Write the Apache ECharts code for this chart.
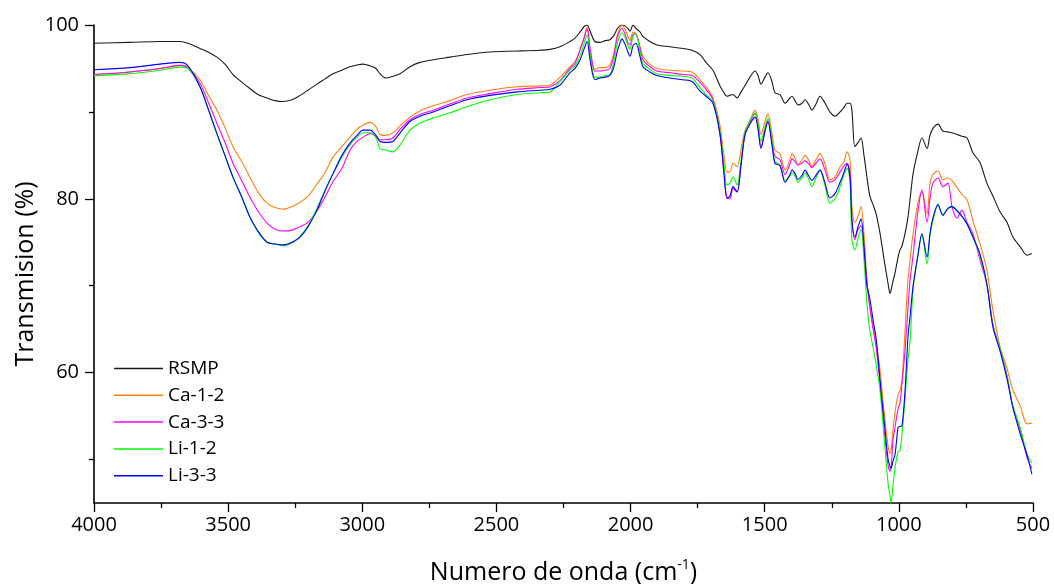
<!DOCTYPE html>
<html>
<head>
        <meta charset="utf-8">
        <title>FTIR</title>
        <script src="https://cdn.jsdelivr.net/npm/echarts@6/dist/echarts.min.js"></script>
        <style>
                body { margin: 0; background: #fff; }
                #main { width: 1054px; height: 584px; }
        </style>
</head>
<body>
        <div id="main"></div>
        <script type="text/javascript">

// ---------------- data (wavenumber cm-1 / transmision %) ----------------
var wavenumber = [4000,3866,3754,3679,3650,3605,3575,3542,3512,3482,3448,3419,3389,3355,3325,3296,3262,3232,3202,3169,
        3139,3109,3076,3046,3020,2997,2971,2949,2934,2912,2886,2859,2822,2785,2736,2673,2610,2524,2423,2338,
        2300,2263,2226,2207,2188,2174,2162,2151,2133,2114,2095,2077,2062,2051,2040,2032,2021,2010,2002,1991,
        1980,1965,1954,1928,1902,1853,1805,1771,1741,1719,1693,1667,1652,1641,1630,1618,1603,1588,1574,1555,
        1536,1525,1514,1499,1488,1473,1462,1443,1424,1406,1398,1387,1376,1361,1350,1335,1324,1309,1294,1275,
        1257,1238,1219,1205,1193,1182,1175,1164,1152,1141,1130,1119,1108,1096,1085,1070,1055,1040,1033,1029,
        1022,1014,1003,996,988,977,966,958,947,929,914,895,884,873,854,836,817,802,783,765,
        746,724,698,672,649,623,597,575,548,522,504]

var rsmp = [97.9,98.0,98.1,98.1,97.9,97.3,96.9,96.3,95.5,94.3,93.4,92.7,92.0,91.6,91.3,91.2,91.4,91.9,92.5,93.2,
        93.8,94.4,94.8,95.2,95.4,95.5,95.3,95.0,94.4,93.9,94.1,94.4,95.2,95.7,96.0,96.3,96.6,96.9,97.0,97.1,
        97.2,97.5,98.1,98.5,99.2,99.8,100,99.3,98.1,98.0,98.2,98.3,98.8,99.5,99.9,100,99.9,99.6,99.3,100,
        99.6,99.2,98.7,98.1,97.7,97.5,97.3,97.1,96.6,95.7,94.8,93.0,92.2,91.8,91.9,92.0,91.6,92.3,93.0,94.0,
        94.7,94.2,93.2,94.0,94.5,93.5,92.2,92.0,91.0,91.6,91.8,91.3,90.8,91.0,91.4,90.8,90.2,90.9,91.8,91.0,
        90.0,89.5,90.0,90.5,91.0,91.0,90.2,86.0,86.5,87.0,85.0,82.5,80.3,79.3,78.3,76.0,73.0,70.2,69.1,69.5,
        70.5,71.5,73.3,74.1,74.6,76.0,77.9,80.0,82.9,85.5,87.0,85.8,87.3,88.1,88.6,87.8,87.7,87.6,87.4,87.2,
        87.0,85.3,84.2,81.8,80.3,78.5,77.3,75.6,74.5,73.5,73.7]

var ca12 = [94.3,94.6,95.0,95.35,95.1,93.7,92.0,90.2,88.2,86.0,84.2,82.5,80.8,79.5,79.0,78.8,79.1,79.6,80.3,81.7,
        83.0,84.8,86.0,87.1,88.0,88.5,88.8,88.3,87.4,87.3,87.6,88.4,89.4,90.1,90.7,91.3,92.0,92.5,92.9,93.0,
        93.1,94.0,95.2,95.8,97.2,98.5,99.8,97.5,94.9,95.1,95.1,95.4,96.8,98.7,99.6,100,99.5,98.7,98.2,99.2,
        99.0,97.6,96.4,95.5,95.0,94.8,94.7,94.6,93.7,92.9,91.6,88.5,85.0,83.1,83.1,84.1,83.7,85.7,87.8,89.0,
        90.2,89.2,87.4,88.9,89.8,87.5,85.6,85.2,83.3,84.5,85.2,84.7,83.9,84.5,85.0,84.4,83.7,84.5,85.2,84.0,
        82.2,82.5,83.7,84.2,85.4,84.5,79.1,77.3,78.0,79.1,76.0,70.5,67.5,65.3,63.5,60.3,55.5,51.5,50.7,51.0,
        53.4,55.5,57.5,57.9,59.1,64.9,70.7,73.0,76.0,79.5,80.8,78.3,81.8,82.8,83.2,82.2,82.4,82.1,81.3,80.5,
        79.9,77.5,74.9,71.8,67.1,63.0,60.5,58.0,56.2,54.1,54.2]

var ca33 = [94.3,94.6,95.0,95.35,95.1,93.3,91.2,88.7,86.5,84.1,82.0,80.2,78.6,77.2,76.5,76.3,76.4,76.8,77.3,78.6,
        80.2,82.0,83.5,85.6,86.6,87.1,87.5,87.2,86.8,86.8,87.0,88.0,89.1,89.7,90.2,90.9,91.6,92.1,92.6,92.8,
        92.9,93.6,95.0,95.6,97.2,98.4,99.6,97.2,94.7,94.7,94.8,95.0,96.5,98.4,99.3,99.6,99.0,98.0,97.7,98.9,
        99.0,97.3,96.0,95.2,94.7,94.5,94.3,94.2,93.4,92.6,91.4,87.5,83.0,80.1,80.0,81.2,80.8,84.0,87.3,88.8,
        89.8,88.5,85.9,87.8,89.0,86.6,84.9,84.5,82.8,84.0,84.6,84.3,83.9,84.1,84.4,84.0,83.6,84.1,84.6,83.3,
        81.9,82.2,83.1,83.8,84.1,83.0,77.6,75.3,76.5,76.9,74.5,70.5,67.5,65.0,63.0,58.7,53.5,49.3,48.7,49.0,
        52.2,53.8,55.8,56.5,58.8,62.5,67.5,70.7,73.5,78.5,81.0,77.3,80.0,81.8,82.4,81.4,81.8,79.1,77.8,78.7,
        77.3,76.0,73.0,70.2,65.5,62.8,59.7,56.0,53.5,50.2,49.0]

var li12 = [94.15,94.4,94.8,95.15,95.0,92.9,90.4,87.5,85.0,82.5,80.1,77.9,76.2,75.0,74.8,74.6,74.9,75.7,76.9,78.9,
        81.0,82.9,84.8,86.2,87.1,87.6,87.6,87.0,85.8,85.6,85.4,86.2,87.9,88.7,89.3,89.9,90.6,91.4,92.0,92.2,
        92.3,93.5,94.8,95.3,96.5,97.8,98.9,96.6,94.0,94.0,94.2,94.3,95.8,97.7,98.8,99.1,98.6,97.6,97.2,98.7,
        99.0,97.0,95.6,94.9,94.4,94.2,94.1,93.9,92.8,92.0,91.2,87.8,84.0,81.6,81.8,82.5,81.6,84.5,87.5,89.0,
        89.9,88.6,86.6,88.3,89.3,86.6,84.3,83.9,82.1,82.6,83.0,82.6,81.9,82.4,83.0,82.2,81.4,82.4,83.3,81.5,
        79.5,80.0,81.4,82.8,83.5,82.0,75.3,74.1,75.5,76.5,73.0,68.0,64.8,62.9,61.0,57.9,52.5,47.2,45.8,45.0,
        47.0,49.1,50.9,51.0,53.0,57.0,61.5,63.7,69.5,73.5,75.8,72.5,75.8,77.5,79.4,78.2,78.9,79.1,78.7,78.0,
        77.1,75.6,73.5,70.2,65.3,62.8,59.6,56.2,53.7,50.6,49.6]

var li33 = [94.85,95.1,95.5,95.7,95.3,92.9,90.4,87.5,85.0,82.5,80.1,77.9,76.3,75.0,74.8,74.7,75.0,75.6,76.8,78.7,
        80.9,82.9,85.0,86.4,87.3,87.9,87.9,87.3,86.6,86.5,86.6,87.6,88.9,89.5,90.0,90.7,91.4,91.9,92.3,92.5,
        92.6,93.1,94.5,95.0,96.0,97.2,98.1,96.0,93.7,93.9,94.0,94.2,95.2,96.8,97.9,98.4,97.8,96.9,96.4,97.6,
        97.9,96.4,95.2,94.6,94.2,93.9,93.7,93.5,92.4,91.8,91.0,87.5,83.0,80.1,80.3,81.4,80.8,84.0,87.3,88.6,
        89.4,88.0,85.8,87.8,88.9,86.2,84.1,83.8,81.9,82.8,83.3,82.9,82.2,82.7,83.3,82.6,82.1,82.7,83.3,81.8,
        80.1,80.6,81.9,83.0,84.0,82.5,77.6,75.6,76.8,77.7,74.5,70.0,68.5,66.0,64.0,59.1,54.5,50.0,49.2,49.0,
        49.8,50.6,53.7,53.8,53.9,57.9,64.1,66.5,70.0,73.5,76.0,73.3,76.0,77.8,79.3,78.1,78.9,79.1,78.6,78.0,
        77.1,75.6,73.7,70.2,65.2,62.5,59.3,56.0,53.0,50.5,48.3]

var seriesNames = ['RSMP', 'Ca-1-2', 'Ca-3-3', 'Li-1-2', 'Li-3-3']
var seriesValues = [rsmp, ca12, ca33, li12, li33]
var colorArr = ['#1a1a1a', '#ff7f0e', '#ff00ff', '#00ff00', '#0000ff']
var xTicks = [4000, 3500, 3000, 2500, 2000, 1500, 1000, 500]
var yMajor = [60, 80, 100]
var yMinor = [50, 70, 90]
// -------------------------------------------------------------------------

var seriesArr = []
for (var i = 0; i < seriesNames.length; i++) {
        var pts = []
        for (var k = 0; k < wavenumber.length; k++) {
                pts.push([wavenumber[k], seriesValues[i][k]])
        }
        seriesArr.push({
                name: seriesNames[i],
                type: 'line',
                data: pts,
                symbol: 'none',
                smooth: 0.3,
                yAxisIndex: 0,
                lineStyle: { color: colorArr[i], width: 1.1 },
                itemStyle: { color: colorArr[i] }
        })
}

var axisFont = { color: '#000', fontSize: 20, fontFamily: 'Open Sans' }

var option = {
        animation: false,
        textStyle: { fontFamily: 'Open Sans' },
        grid: { left: 94, right: 21, top: 25, bottom: 81, containLabel: false, outerBoundsMode: 'none' },
        legend: {
                orient: 'vertical',
                left: 114,
                top: 358.5,
                padding: 0,
                icon: 'rect',
                itemWidth: 49,
                itemHeight: 1.5,
                itemGap: 6.8,
                textStyle: { color: '#000', fontSize: 19, lineHeight: 20, padding: [0, 0, 0, 0] },
                data: seriesNames
        },
        xAxis: {
                type: 'value',
                inverse: true,
                min: 500,
                max: 4000,
                interval: 500,
                name: 'Numero de onda (cm{sup|-1})',
                nameLocation: 'middle',
                nameGap: 55,
                nameTextStyle: {
                        color: '#000', fontSize: 25, lineHeight: 30,
                        rich: { sup: { fontSize: 14, verticalAlign: 'top', lineHeight: 14, color: '#000' } }
                },
                axisLine: { show: true, onZero: false, lineStyle: { color: '#000', width: 1.6 } },
                axisTick: { show: true, inside: false, length: 9, lineStyle: { color: '#000', width: 1.3 } },
                minorTick: { show: true, splitNumber: 2, length: 5, lineStyle: { color: '#000', width: 1.3 } },
                axisLabel: Object.assign({
                        margin: 12,
                        customValues: xTicks,
                        formatter: function (v) { return String(v) }
                }, axisFont),
                splitLine: { show: false }
        },
        yAxis: [{
                type: 'value',
                min: 45,
                max: 100,
                position: 'left',
                name: 'Transmision (%)',
                nameLocation: 'middle',
                nameGap: 56,
                nameMoveOverlap: false,
                nameTextStyle: { color: '#000', fontSize: 25, padding: [0, 20, 0, 0] },
                axisLine: { show: true, onZero: false, lineStyle: { color: '#000', width: 1.6 } },
                axisTick: { show: true, inside: false, length: 9, customValues: yMajor, lineStyle: { color: '#000', width: 1.3 } },
                axisLabel: Object.assign({ margin: 15, customValues: yMajor }, axisFont),
                splitLine: { show: false }
        }, {
                type: 'value',
                min: 45,
                max: 100,
                position: 'left',
                axisLine: { show: false },
                axisTick: { show: true, inside: false, length: 5, customValues: yMinor, lineStyle: { color: '#000', width: 1.3 } },
                axisLabel: { show: false },
                splitLine: { show: false }
        }],
        series: seriesArr
}

echarts.init(document.getElementById('main')).setOption(option, true)

        </script>
</body>
</html>
